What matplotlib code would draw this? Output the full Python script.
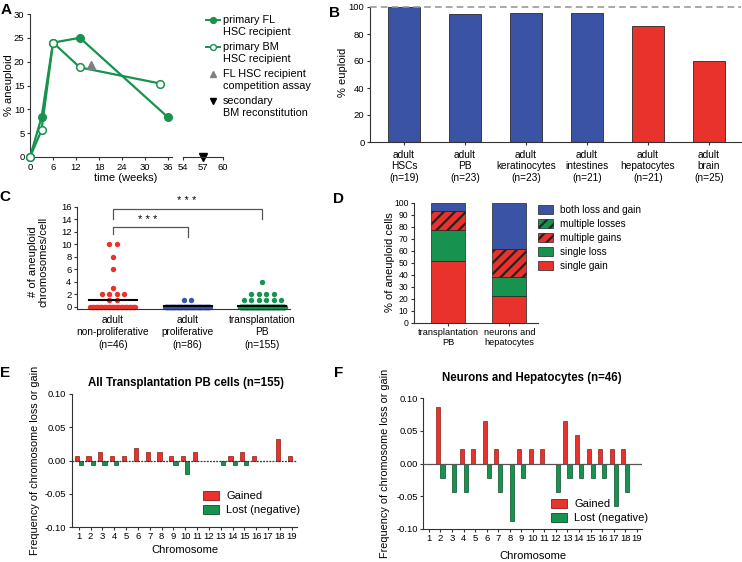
import numpy as np
import matplotlib
matplotlib.use('Agg')
import matplotlib.pyplot as plt
from matplotlib.patches import Patch

plt.rcParams['font.family'] = ['Liberation Sans', 'DejaVu Sans']
plt.rcParams['font.size'] = 7
plt.rcParams['axes.linewidth'] = 0.8
plt.rcParams['hatch.linewidth'] = 1.6
plt.rcParams['hatch.color'] = 'black'

W, H = 742, 562

GREEN = '#17924f'
RED = '#e8322b'
BLUE = '#3a53a4'
AXC = '#333333'

# ---- A: aneuploidy over time ----
fl_weeks = [0, 3, 6, 13, 36]
fl_aneuploid = [0, 8.3, 24, 25, 8.3]
bm_weeks = [0, 3, 6, 13, 34]
bm_aneuploid = [0, 5.6, 24, 18.8, 15.4]
comp_weeks = [16]
comp_aneuploid = [19.3]
sec_weeks = [57]
sec_aneuploid = [0]

# ---- B: % euploid per tissue ----
tissues = ['adult\nHSCs\n(n=19)', 'adult\nPB\n(n=23)', 'adult\nkeratinocytes\n(n=23)',
           'adult\nintestines\n(n=21)', 'adult\nhepatocytes\n(n=21)', 'adult\nbrain\n(n=25)']
euploid = [100, 94.7, 95.7, 95.2, 85.7, 60]
tissue_colors = [BLUE, BLUE, BLUE, BLUE, RED, RED]

# ---- C: aneuploid chromosomes per cell (value, number of cells) ----
c_groups = ['adult\nnon-proliferative\n(n=46)', 'adult\nproliferative\n(n=86)',
            'transplantation\nPB\n(n=155)']
nonprolif_vals = [0, 1, 2, 3, 6, 8, 10]
nonprolif_counts = [35, 2, 4, 1, 1, 1, 2]
prolif_vals = [0, 1]
prolif_counts = [84, 2]
transpl_vals = [0, 1, 2, 4]
transpl_counts = [144, 6, 4, 1]

# ---- D: kinds of aneuploidy ----
d_groups = ['transplantation\nPB', 'neurons and\nhepatocytes']
single_gain = [51.7, 22.5]
single_loss = [25.5, 15.5]
multiple_gains = [16.3, 23.5]
multiple_losses = [0, 0]
both_loss_gain = [6.5, 38.5]

# ---- E / F: frequency per chromosome ----
chromosomes = list(range(1, 20))
e_gained = [0.0065, 0.0065, 0.0129, 0.0065, 0.0065, 0.0194, 0.0129, 0.0129, 0.0065, 0.0065,
            0.0129, 0, 0, 0.0065, 0.0129, 0.0065, 0, 0.0323, 0.0065]
e_lost = [-0.0065, -0.0065, -0.0065, -0.0065, 0, 0, 0, 0, -0.0065, -0.0194,
          0, 0, -0.0065, -0.0065, -0.0065, 0, 0, 0, 0]
f_gained = [0, 0.087, 0, 0.0217, 0.0217, 0.0652, 0.0217, 0, 0.0217, 0.0217,
            0.0217, 0, 0.0652, 0.0435, 0.0217, 0.0217, 0.0217, 0.0217, 0]
f_lost = [0, -0.0217, -0.0435, -0.0435, 0, -0.0217, -0.0435, -0.087, -0.0217, 0,
          0, -0.0435, -0.0217, -0.0217, -0.0217, -0.0217, -0.0652, -0.0435, 0]


def px(x, y, w, h):
    # pixel box (top-left origin) -> figure fraction rect
    return [x / W, 1 - (y + h) / H, w / W, h / H]


def style(ax, size=6.8):
    for s in ['top', 'right']:
        ax.spines[s].set_visible(False)
    for s in ['left', 'bottom']:
        ax.spines[s].set_color(AXC)
    ax.tick_params(direction='out', length=2.5, width=0.8, color=AXC, labelsize=size, pad=1.5)


def swarm(n, step=0.1, maxw=0.3):
    off = (np.arange(n) - (n - 1) / 2) * step
    if n > 1 and off[-1] > maxw:
        off = np.linspace(-maxw, maxw, n)
    return off


fig = plt.figure(figsize=(W / 100, H / 100), dpi=100)

# overlay in pixel units for free-standing texts and the hand-made legend of A
ov = fig.add_axes([0, 0, 1, 1], zorder=10)
ov.set_xlim(0, W)
ov.set_ylim(H, 0)
ov.axis('off')


def ftext(x, y, s, **kw):
    ov.text(x, y, s, **kw)


# ================= A =================
axa = fig.add_axes(px(30, 14, 142, 143))
axa2 = fig.add_axes(px(183, 14, 40, 143))
style(axa)
style(axa2)
axa.plot(fl_weeks, fl_aneuploid, color=GREEN, lw=1.6, marker='o', ms=5.5, clip_on=False, zorder=3)
axa.plot(bm_weeks, bm_aneuploid, color=GREEN, lw=1.6, marker='o', ms=5.5, mfc='white',
         mew=1.1, clip_on=False, zorder=3)
axa.plot(comp_weeks, comp_aneuploid, ls='none', marker='^', ms=6, color='#808080', zorder=4)
axa.set_xlim(0, 37)
axa.set_ylim(0, 30)
axa.set_xticks([0, 6, 12, 18, 24, 30, 36])
axa.set_yticks([0, 5, 10, 15, 20, 25, 30])
axa2.plot(sec_weeks, sec_aneuploid, ls='none', marker='v', ms=6, color='black', clip_on=False)
axa2.set_xlim(54, 60)
axa2.set_ylim(0, 30)
axa2.set_xticks([54, 57, 60])
axa2.spines['left'].set_visible(False)
axa2.set_yticks([])
ftext(126, 178, 'time (weeks)', ha='center', va='center', fontsize=8)
ftext(9, 85, '% aneuploid', ha='center', va='center', rotation=90, fontsize=8)

# legend of A: marker sits on the first line of each two-line label
a_labels = [('primary FL', 'HSC recipient'), ('primary BM', 'HSC recipient'),
            ('FL HSC recipient', 'competition assay'), ('secondary', 'BM reconstitution')]
a_styles = [dict(color=GREEN, lw=1.4, marker='o', ms=4.2, markevery=[1]),
            dict(color=GREEN, lw=1.4, marker='o', ms=4.2, mfc='white', mew=1.0, markevery=[1]),
            dict(ls='none', marker='^', ms=5, color='#808080', markevery=[1]),
            dict(ls='none', marker='v', ms=5, color='black', markevery=[1])]
for k, ((l1, l2), st) in enumerate(zip(a_labels, a_styles)):
    y0 = 20 + k * 27
    ov.plot([206, 213, 220], [y0, y0, y0], **st)
    ftext(223, y0, l1, ha='left', va='center', fontsize=7.8)
    ftext(223, y0 + 12.3, l2, ha='left', va='center', fontsize=7.8)

# ================= B =================
axb = fig.add_axes(px(370, 7, 371, 135))
style(axb)
xb = np.arange(len(tissues))
axb.bar(xb, euploid, width=0.52, color=tissue_colors, edgecolor='#2a2a2a', lw=0.6, zorder=2)
axb.axhline(100, color='#999999', lw=1.2, ls=(0, (4, 2.5)), zorder=3, clip_on=False)
axb.set_xlim(-0.56, 5.53)
axb.set_ylim(0, 100)
axb.set_yticks([0, 20, 40, 60, 80, 100])
axb.set_xticks(xb)
axb.set_xticklabels(tissues, fontsize=7.3, linespacing=1.2)
axb.tick_params(axis='x', pad=3)
ftext(343, 72, '% euploid', ha='center', va='center', rotation=90, fontsize=8)

# ================= C =================
axc = fig.add_axes(px(77, 207, 213, 102))
style(axc)
c_data = [(nonprolif_vals, nonprolif_counts, RED),
          (prolif_vals, prolif_counts, BLUE),
          (transpl_vals, transpl_counts, GREEN)]
for i, (vals, counts, col) in enumerate(c_data):
    for v, n in zip(vals, counts):
        axc.scatter(i + swarm(n), np.full(n, v), s=15, color=col, lw=0, zorder=2, clip_on=False)
    mean = np.average(vals, weights=counts)
    axc.plot([i - 0.32, i + 0.32], [mean, mean], color='black', lw=1.5, zorder=3)
axc.set_xlim(-0.48, 2.37)
axc.set_ylim(-0.4, 16)
axc.set_yticks(range(0, 17, 2))
axc.set_xticks(range(3))
axc.set_xticklabels(c_groups, fontsize=7.3, linespacing=1.35)
axc.tick_params(axis='x', length=0, pad=4)
br = '#555555'
axc.plot([0, 0, 1, 1], [11.6, 12.8, 12.8, 11.1], color=br, lw=0.9, clip_on=False)
axc.plot([0, 0, 2, 2], [14.0, 15.6, 15.6, 14.0], color=br, lw=0.9, clip_on=False)
axc.text(0.47, 13.9, '* * *', ha='center', va='center', fontsize=8)
axc.text(0.99, 16.9, '* * *', ha='center', va='center', fontsize=8)
ftext(38, 262, '# of aneuploid\nchromosomes/cell', ha='center', va='center', rotation=90,
      fontsize=8, linespacing=1.1)

# ================= D =================
axd = fig.add_axes(px(414, 202.7, 124, 120))
style(axd, size=6.2)
xd = np.arange(len(d_groups))
segments = [(single_gain, RED, None), (single_loss, GREEN, None),
            (multiple_gains, RED, '///'), (multiple_losses, GREEN, '///'),
            (both_loss_gain, BLUE, None)]
bottom = np.zeros(len(d_groups))
for vals, col, hatch in segments:
    axd.bar(xd, vals, bottom=bottom, width=0.55, color=col, hatch=hatch,
            edgecolor='#222222', lw=0.5, zorder=2)
    bottom += np.array(vals)
axd.set_xlim(-0.56, 1.47)
axd.set_ylim(0, 100)
axd.set_yticks(range(0, 101, 10))
axd.set_xticks(xd)
axd.set_xticklabels(d_groups, fontsize=6.7, linespacing=1.15)
ftext(390, 262, '% of aneuploid cells', ha='center', va='center', rotation=90, fontsize=8)
d_handles = [Patch(facecolor=BLUE, edgecolor='#222222', lw=0.5),
             Patch(facecolor=GREEN, edgecolor='#222222', lw=0.5, hatch='///'),
             Patch(facecolor=RED, edgecolor='#222222', lw=0.5, hatch='///'),
             Patch(facecolor=GREEN, edgecolor='#222222', lw=0.5),
             Patch(facecolor=RED, edgecolor='#222222', lw=0.5)]
d_labels = ['both loss and gain', 'multiple losses', 'multiple gains', 'single loss', 'single gain']
fig.legend(d_handles, d_labels, loc='upper left', bbox_to_anchor=(538 / W, 1 - 205 / H),
           frameon=False, fontsize=7.2, handlelength=1.5, handleheight=0.9,
           labelspacing=0.4, handletextpad=0.7, borderpad=0, borderaxespad=0)


# ================= E / F =================
def chrom_panel(rect, gained, lost, title, title_xy, ylab_x, xlab_y, leg_xy, zero_style):
    ax = fig.add_axes(rect)
    style(ax)
    x = np.array(chromosomes)
    g = np.array(gained)
    l = np.array(lost)
    w = 0.35
    ax.bar(x[g != 0] - w / 2, g[g != 0], width=w, color=RED, edgecolor='#8a1c17', lw=0.5, zorder=2)
    ax.bar(x[l != 0] + w / 2, l[l != 0], width=w, color=GREEN, edgecolor='#0b4d2a', lw=0.5, zorder=2)
    ax.axhline(0, zorder=3, **zero_style)
    ax.set_ylim(-0.1, 0.1)
    ax.set_yticks([-0.10, -0.05, 0.0, 0.05, 0.10])
    ax.set_yticklabels(['-0.10', '-0.05', '0.00', '0.05', '0.10'])
    ax.set_xticks(x)
    ax.tick_params(axis='x', pad=1)
    ax.set_ylabel('Frequency of chromosome loss or gain', fontsize=7.8)
    ax.yaxis.set_label_coords(ylab_x, 0.5)
    ax.set_xlabel('Chromosome', fontsize=8)
    ax.xaxis.set_label_coords(0.5, xlab_y)
    ftext(title_xy[0], title_xy[1], title, ha='center', va='center', fontsize=8.3, fontweight='bold')
    hs = [Patch(facecolor=RED, edgecolor='#8a1c17', lw=0.6),
          Patch(facecolor=GREEN, edgecolor='#0b4d2a', lw=0.6)]
    fig.legend(hs, ['Gained', 'Lost (negative)'], loc='upper left',
               bbox_to_anchor=(leg_xy[0] / W, 1 - leg_xy[1] / H), frameon=False, fontsize=8,
               handlelength=1.4, handleheight=0.8, labelspacing=0.35, handletextpad=0.7,
               borderpad=0, borderaxespad=0)
    return ax


axe = chrom_panel(px(72, 394, 225, 133.3), e_gained, e_lost, 'All Transplantation PB cells (n=155)',
                  (186, 383), -0.142, -0.133, (203, 491),
                  dict(color='#333333', lw=0.9, ls=(0, (1.5, 1))))
axe.set_xlim(0.43, 19.45)
axf = chrom_panel(px(423.3, 398.3, 218.4, 130.7), f_gained, f_lost, 'Neurons and Hepatocytes (n=46)',
                  (532, 378), -0.152, -0.165, (551, 499),
                  dict(color='#555555', lw=0.9))
axf.set_xlim(0.51, 19.43)

# panel letters
for lab, x, y in [('A', 6, 10), ('B', 334, 13), ('C', 5, 197), ('D', 339, 199),
                  ('E', 5, 373), ('F', 339, 373)]:
    ftext(x, y, lab, ha='center', va='center', fontsize=11, fontweight='bold')

fig.savefig('out.png', dpi=100)
